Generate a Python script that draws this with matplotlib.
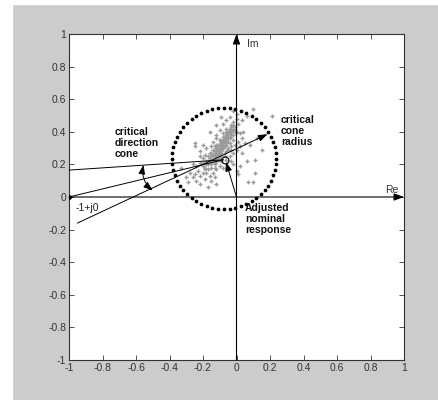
import numpy as np
import matplotlib
matplotlib.use("Agg")
from matplotlib import pyplot as plt
from matplotlib.patches import Rectangle

plt.rcParams['font.family'] = ['Liberation Sans', 'DejaVu Sans']

# closed-loop response samples (gray crosses)
scatter_re = [-0.06, -0.04, -0.02, 0.00, -0.03, 0.01, -0.08, -0.01,
              -0.10, -0.08, -0.06, -0.05, -0.03, -0.02, 0.00, 0.02, -0.12, -0.07, -0.04, 0.03,
              -0.14, -0.12, -0.10, -0.09, -0.08, -0.06, -0.05, -0.04, -0.02, -0.01, 0.01, -0.11, -0.13, -0.07, 0.02,
              -0.18, -0.15, -0.13, -0.12, -0.10, -0.09, -0.08, -0.06, -0.05, -0.03, -0.02, 0.00, -0.11, -0.14, -0.07,
              -0.22, -0.20, -0.19, -0.17, -0.16, -0.15, -0.13, -0.12, -0.10, -0.09, -0.06, -0.04, -0.03, -0.18, -0.21,
              -0.26, -0.24, -0.22, -0.20, -0.19, -0.17, -0.15, -0.13, -0.12, -0.10, -0.08, -0.23, -0.18, -0.14, -0.02,
              -0.28, -0.25, -0.22, -0.20, -0.16, -0.13, -0.19, -0.24, -0.15,
              -0.29, -0.26, -0.22, -0.17, -0.12, -0.30, -0.33, -0.25, -0.22,
              0.10, 0.21, -0.02, 0.06, 0.00, 0.03, 0.15, 0.11, 0.11, 0.07, 0.10, 0.00, 0.01, 0.03, 0.05, 0.08,
              0.12, 0.04, 0.06, 0.02, -0.09, -0.12, -0.16, -0.20, -0.25,
              -0.17, -0.16, -0.15, -0.15, -0.14, -0.14, -0.13, -0.13, -0.12, -0.12, -0.12, -0.11, -0.11, -0.11,
              -0.10, -0.10, -0.10, -0.09, -0.09, -0.09, -0.08, -0.08, -0.08, -0.07, -0.07, -0.07, -0.06, -0.06,
              -0.06, -0.05, -0.05, -0.05, -0.04, -0.04, -0.04, -0.03, -0.03, -0.03, -0.02, -0.02, -0.01, -0.01,
              -0.15, -0.13, -0.11, -0.09, -0.07, -0.05, -0.03, -0.16, -0.14, -0.12, -0.10, -0.08, -0.06,
              -0.18, -0.19, -0.17, -0.20, -0.13, -0.095, -0.085, -0.075, -0.065, -0.055, -0.045, -0.035, -0.115, -0.105]
scatter_im = [0.47, 0.49, 0.46, 0.48, 0.44, 0.45, 0.45, 0.42,
              0.41, 0.39, 0.42, 0.40, 0.41, 0.38, 0.40, 0.39, 0.38, 0.37, 0.37, 0.36,
              0.34, 0.36, 0.35, 0.33, 0.35, 0.34, 0.36, 0.33, 0.35, 0.32, 0.34, 0.32, 0.31, 0.31, 0.31,
              0.30, 0.31, 0.28, 0.30, 0.29, 0.27, 0.30, 0.28, 0.30, 0.29, 0.27, 0.29, 0.26, 0.26, 0.25,
              0.25, 0.24, 0.26, 0.25, 0.23, 0.27, 0.24, 0.22, 0.24, 0.22, 0.23, 0.25, 0.22, 0.22, 0.21,
              0.20, 0.19, 0.21, 0.19, 0.17, 0.20, 0.18, 0.20, 0.17, 0.19, 0.18, 0.16, 0.15, 0.15, 0.20,
              0.15, 0.14, 0.13, 0.15, 0.13, 0.12, 0.11, 0.10, 0.10,
              0.09, 0.12, 0.08, 0.06, 0.08, 0.12, 0.18, 0.33, 0.28,
              0.54, 0.50, 0.53, 0.50, 0.51, 0.47, 0.29, 0.23, 0.15, 0.09, 0.09, 0.16, 0.14, 0.27, 0.33, 0.32,
              0.36, 0.40, 0.22, 0.19, 0.49, 0.44, 0.40, 0.32, 0.31,
              0.22, 0.24, 0.22, 0.25, 0.23, 0.26, 0.25, 0.27, 0.24, 0.27, 0.29, 0.26, 0.28, 0.30,
              0.27, 0.30, 0.32, 0.29, 0.31, 0.34, 0.30, 0.32, 0.34, 0.33, 0.35, 0.37, 0.32, 0.35,
              0.38, 0.34, 0.37, 0.39, 0.36, 0.39, 0.42, 0.38, 0.40, 0.43, 0.41, 0.44, 0.40, 0.43,
              0.20, 0.21, 0.23, 0.25, 0.27, 0.29, 0.31, 0.27, 0.29, 0.32, 0.35, 0.37, 0.40,
              0.20, 0.18, 0.17, 0.21, 0.18, 0.285, 0.315, 0.345, 0.365, 0.385, 0.405, 0.415, 0.255, 0.285]

# nominal point and critical cone circle
nominal = (-0.07, 0.23)
circle_center = (-0.075, 0.235)
circle_radius = 0.31
n_circle_dots = 56

# direction lines from the critical point
line1_start, line1_end = (-1.0, 0.165), (-0.08, 0.228)
line2_start, line2_end = (-1.0, 0.0), (-0.08, 0.228)
radius_start, radius_end = (-0.95, -0.16), (0.185, 0.385)
cone_arc_top, cone_arc_bottom = (-0.555, 0.197), (-0.5, 0.04)

fig = plt.figure(figsize=(4.38, 4.0), dpi=100, facecolor='#cccccc')
fig.patches.append(Rectangle((0, 0.99), 1, 0.01, transform=fig.transFigure,
                             color='white', zorder=0))
fig.patches.append(Rectangle((0, 0), 12 / 438, 1, transform=fig.transFigure,
                             color='white', zorder=0))
ax = fig.add_axes([69 / 438, 40 / 400, 335 / 438, 326 / 400])

ax.plot(scatter_re, scatter_im, '+', color='#9a9a9a', ms=3.2, mew=1.0, zorder=2)

t = np.linspace(0, 2 * np.pi, n_circle_dots, endpoint=False)
ax.plot(circle_center[0] + circle_radius * np.cos(t),
        circle_center[1] + circle_radius * np.sin(t),
        'o', color='black', ms=2.7, mew=0, zorder=3)

ax.plot(*nominal, 'o', mfc='none', mec='black', ms=5, mew=0.8, zorder=4)
ax.plot(-1, 0, 'o', color='black', ms=2.5, zorder=4)

# coordinate axes with arrow heads
head = dict(arrowstyle='-|>,head_length=0.6,head_width=0.22', color='black', lw=0.8,
            shrinkA=0, shrinkB=0)
ax.annotate('', xy=(1.0, 0), xytext=(-1.0, 0), arrowprops=head, zorder=4)
ax.annotate('', xy=(0, 1.0), xytext=(0, -1.0), arrowprops=head, zorder=4)

ax.plot([line1_start[0], line1_end[0]], [line1_start[1], line1_end[1]], color='black', lw=0.7, zorder=4)
ax.plot([line2_start[0], line2_end[0]], [line2_start[1], line2_end[1]], color='black', lw=0.7, zorder=4)

small = dict(arrowstyle='-|>,head_length=0.55,head_width=0.2', color='black', lw=0.7,
             shrinkA=0, shrinkB=0)
ax.annotate('', xy=radius_end, xytext=radius_start, arrowprops=small, zorder=4)
ax.annotate('', xy=(-0.063, 0.215), xytext=(0, 0), arrowprops=small, zorder=4)
ax.annotate('', xy=cone_arc_bottom, xytext=cone_arc_top, zorder=4,
            arrowprops=dict(arrowstyle='<|-|>,head_length=0.55,head_width=0.2', color='black',
                            lw=0.7, shrinkA=0, shrinkB=0, connectionstyle='arc3,rad=0.3'))

bold = dict(fontsize=7.5, fontweight='bold', color='#111111', linespacing=1.15, va='top', ha='left')
ax.text(-0.725, 0.43, 'critical\ndirection\ncone', **bold)
ax.text(0.265, 0.505, 'critical\ncone\nradius', **bold)
ax.text(0.05, -0.035, 'Adjusted\nnominal\nresponse', **bold)
ax.text(-0.96, -0.065, '-1+j0', fontsize=7.5, color='#222222', va='center', ha='left')
ax.text(0.065, 0.94, 'Im', fontsize=7.5, color='#333333', va='center', ha='left')
ax.text(0.885, 0.045, 'Re', fontsize=7.5, color='#333333', va='center', ha='left')

ax.set_xlim(-1, 1)
ax.set_ylim(-1, 1)
ticks = [-1, -0.8, -0.6, -0.4, -0.2, 0, 0.2, 0.4, 0.6, 0.8, 1]
tick_labels = ['-1', '-0.8', '-0.6', '-0.4', '-0.2', '0', '0.2', '0.4', '0.6', '0.8', '1']
ax.set_xticks(ticks)
ax.set_xticklabels(tick_labels)
ax.set_yticks(ticks)
ax.set_yticklabels(tick_labels)
ax.tick_params(direction='in', length=3.5, width=0.6, top=True, right=True,
               labelsize=7.5, labelcolor='#333333', color='#333333', pad=2)
for s in ax.spines.values():
    s.set_linewidth(0.8)
    s.set_color('#333333')

fig.savefig('out.png', dpi=100, facecolor=fig.get_facecolor())
